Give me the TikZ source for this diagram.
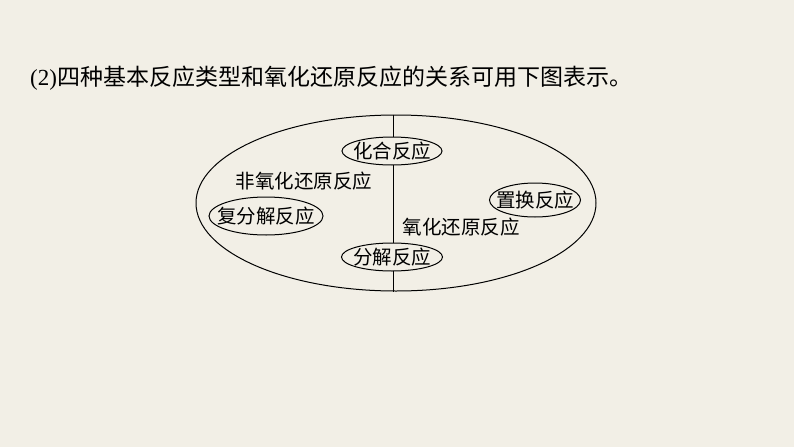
\documentclass[tikz,border=0pt]{standalone}
\usepackage{fontspec}
\usetikzlibrary{shapes.geometric}
\setmainfont{Liberation Serif}
\newfontfamily\cjk{Noto Sans CJK SC}
\definecolor{bg}{HTML}{F2EFE6}
\begin{document}
\begin{tikzpicture}[x=1pt,y=-1pt,
  lbl/.style={font=\cjk\fontsize{19.5}{19.5}\selectfont, inner sep=0pt},
  oval/.style={draw, line width=1pt, fill=bg, ellipse, inner sep=0pt}]
\fill[bg] (0,0) rectangle (794,447);
\useasboundingbox (0,0) rectangle (794,447);
\node[anchor=west, inner sep=0pt, font=\fontsize{23}{23}\selectfont] (title) at (30,78)
  {(2){\cjk 四种基本反应类型和氧化还原反应的关系可用下图表示。}};
\node[draw, line width=1pt, ellipse, minimum width=400pt, minimum height=176pt, inner sep=0pt] (big) at (396,203) {};
\draw[line width=1pt] (big.north -| 393,0) -- (big.south -| 393,0);
\node[oval, minimum width=100pt, minimum height=28pt, label={[lbl]center:化合反应}] (hh) at (392,151) {};
\node[oval, minimum width=101pt, minimum height=28pt, label={[lbl]center:分解反应}] (fj) at (392,257) {};
\node[oval, minimum width=114pt, minimum height=38pt, label={[lbl]center:复分解反应}] (ffj) at (266,216) {};
\node[oval, minimum width=91pt, minimum height=34pt, label={[lbl]center:置换反应}] (zh) at (535,200) {};
\node[lbl] (fy) at (304,181) {非氧化还原反应};
\node[lbl] (yh) at (461,227) {氧化还原反应};
\end{tikzpicture}
\end{document}
